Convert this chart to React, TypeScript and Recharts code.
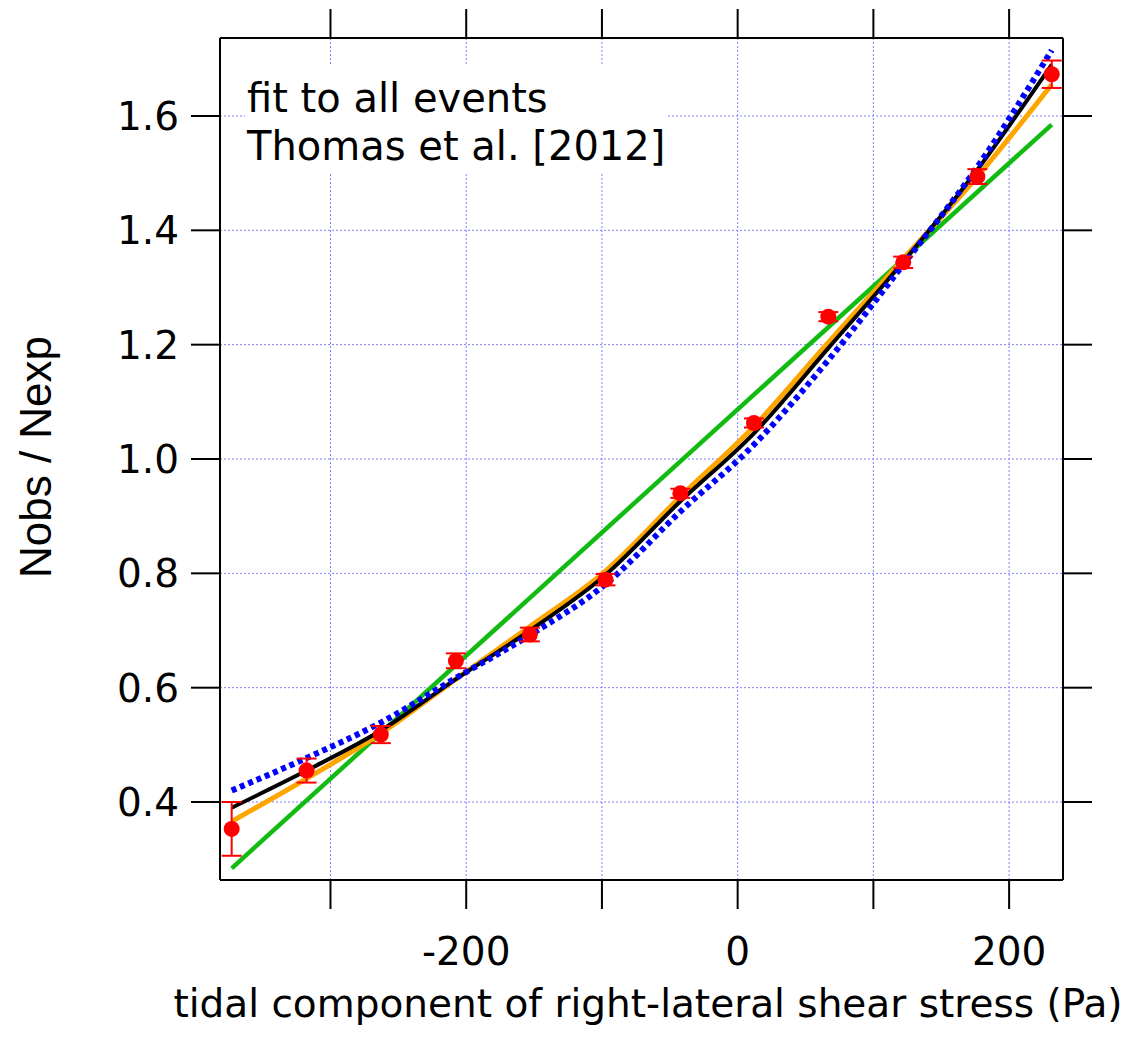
import React from 'react';
import {
  ComposedChart,
  Line,
  Scatter,
  ErrorBar,
  XAxis,
  YAxis,
  CartesianGrid,
} from 'recharts';

// measured points (Nobs / Nexp) with 1-sigma error
const stressPa = [-372.8, -317.6, -262.9, -207.6, -153.1, -97.4, -42.2, 12.0, 66.8, 122.0, 176.6, 231.4];
const ratio = [0.353, 0.455, 0.518, 0.647, 0.693, 0.789, 0.94, 1.063, 1.249, 1.344, 1.494, 1.673];
const ratioErr = [0.047, 0.021, 0.015, 0.013, 0.012, 0.01, 0.008, 0.008, 0.008, 0.01, 0.013, 0.024];

// fitted curves, read at the point positions
const fitX = stressPa;
const blackFit = [0.39, 0.455, 0.525, 0.615, 0.7, 0.797, 0.926, 1.045, 1.194, 1.345, 1.506, 1.69];
const orangeFit = [0.366, 0.441, 0.52, 0.615, 0.707, 0.804, 0.934, 1.057, 1.204, 1.35, 1.494, 1.655];
const blueFit = [0.42, 0.477, 0.539, 0.617, 0.692, 0.781, 0.908, 1.025, 1.173, 1.34, 1.511, 1.715];
const greenX = [-372.8, 231.4];
const greenFit = [0.284, 1.585];

const xTicks = [-300, -200, -100, 0, 100, 200];
const yTicks = [0.4, 0.6, 0.8, 1.0, 1.2, 1.4, 1.6];

const xDomain: [number, number] = [-381.4, 239.7];
const yDomain: [number, number] = [0.2636, 1.7364];

const points = stressPa.map((x, i) => ({ x, y: ratio[i], err: ratioErr[i] }));
const toSeries = (xs: number[], ys: number[]) => xs.map((x, i) => ({ x, y: ys[i] }));

const FONT = '"DejaVu Sans", sans-serif';
const tickStyle = { fontSize: 39, fill: '#000', fontFamily: FONT };
const axisLine = { stroke: '#000', strokeWidth: 2 };
const tickLine = { stroke: '#000', strokeWidth: 2 };

const Dot = (props: any) => <circle cx={props.cx} cy={props.cy} r={8} fill="#ff0000" />;

const XTitle = () => (
  <text x={640} y={1009} textAnchor="middle" fontSize={39} fontFamily={FONT} fill="#000">
    tidal component of right-lateral shear stress (Pa)
  </text>
);

const YTitle = () => (
  <text
    x={27}
    y={449}
    transform="rotate(-90 27 449)"
    textAnchor="middle"
    dominantBaseline="central"
    fontSize={44}
    fontFamily='"Liberation Sans", Arial, sans-serif'
    fill="#000"
  >
    Nobs / Nexp
  </text>
);

export default function App() {
  return (
    <div style={{ position: 'relative', width: 1125, height: 1030, background: '#fff' }}>
      <ComposedChart width={1125} height={1030} margin={{ top: 0, right: 0, bottom: 0, left: 0 }}>
        <CartesianGrid stroke="#7f7fff" strokeDasharray="2 2" strokeWidth={1} />
        <XAxis
          type="number"
          dataKey="x"
          domain={xDomain}
          ticks={xTicks}
          allowDataOverflow
          height={158}
          tickSize={29}
          tickMargin={28}
          axisLine={axisLine}
          tickLine={tickLine}
          tick={tickStyle}
          tickFormatter={(v: number) => (v % 200 === 0 ? String(v) : '')}
        />
        <XAxis
          xAxisId="t"
          orientation="top"
          type="number"
          dataKey="x"
          domain={xDomain}
          ticks={xTicks}
          allowDataOverflow
          height={30}
          tickSize={29}
          axisLine={axisLine}
          tickLine={tickLine}
          tickFormatter={() => ''}
        />
        <YAxis
          type="number"
          domain={yDomain}
          ticks={yTicks}
          allowDataOverflow
          width={212}
          tickSize={29}
          tickMargin={12}
          axisLine={axisLine}
          tickLine={tickLine}
          tick={tickStyle}
          tickFormatter={(v: number) => v.toFixed(1)}
        />
        <YAxis
          yAxisId="r"
          orientation="right"
          type="number"
          domain={yDomain}
          ticks={yTicks}
          allowDataOverflow
          width={70}
          tickSize={29}
          axisLine={axisLine}
          tickLine={tickLine}
          tickFormatter={() => ''}
        />
        <Line
          data={toSeries(greenX, greenFit)}
          dataKey="y"
          type="linear"
          stroke="#11bb11"
          strokeWidth={4.5}
          dot={false}
          isAnimationActive={false}
        />
        <Line
          data={toSeries(fitX, orangeFit)}
          dataKey="y"
          type="monotone"
          stroke="#ffa500"
          strokeWidth={5}
          dot={false}
          isAnimationActive={false}
        />
        <Line
          data={toSeries(fitX, blackFit)}
          dataKey="y"
          type="monotone"
          stroke="#000"
          strokeWidth={4}
          dot={false}
          isAnimationActive={false}
        />
        <Line
          data={toSeries(fitX, blueFit)}
          dataKey="y"
          type="monotone"
          stroke="#0000ff"
          strokeWidth={6}
          strokeDasharray="5 4"
          dot={false}
          isAnimationActive={false}
        />
        <Scatter data={points} dataKey="y" shape={Dot} isAnimationActive={false}>
          <ErrorBar dataKey="err" direction="y" width={10} stroke="#ff0000" strokeWidth={2} />
        </Scatter>
      </ComposedChart>
      <svg
        width={1125}
        height={1030}
        style={{ position: 'absolute', left: 0, top: 0, pointerEvents: 'none' }}
      >
        <XTitle />
        <YTitle />
      </svg>
      <div
        style={{
          position: 'absolute',
          left: 237,
          top: 58,
          width: 423,
          height: 107,
          background: '#fff',
          fontFamily: FONT,
          fontSize: 40,
          lineHeight: '48px',
          color: '#000',
          paddingLeft: 2,
          paddingTop: 8,
          boxSizing: 'border-box',
          whiteSpace: 'nowrap',
        }}
      >
        <div>fit to all events</div>
        <div>Thomas et al. [2012]</div>
      </div>
    </div>
  );
}
